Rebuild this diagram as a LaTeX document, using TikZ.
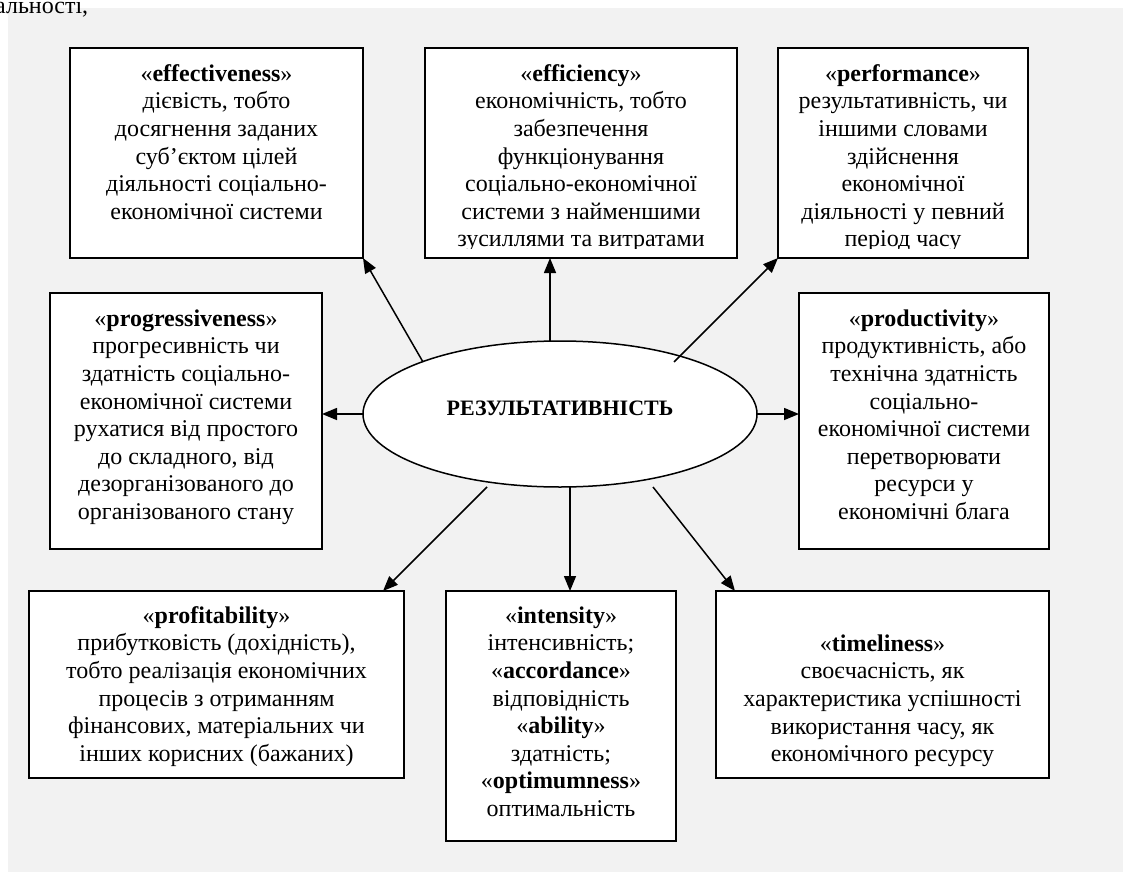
\documentclass[tikz,border=0pt]{standalone}
\usepackage{fontspec}
\setmainfont{Liberation Serif}
\usetikzlibrary{arrows.meta,shapes.geometric,calc}
\newcommand{\fl}{\rule{0pt}{18pt}}
\begin{document}
\begin{tikzpicture}[x=1pt,y=-1pt,
  box/.style={draw=black, line width=1.6pt, fill=white, rectangle, inner sep=0pt, outer sep=0pt},
  txt/.style={align=center, inner sep=0pt, font=\fontsize{24}{27.6}\selectfont, anchor=north},
  ovaltxt/.style={inner sep=0pt, font=\fontsize{22}{26}\selectfont\bfseries},
  arr/.style={line width=1.5pt, -{Triangle[length=15pt,width=12pt]}},
]
\useasboundingbox (0,0) rectangle (1123,872);
\fill[white] (0,0) rectangle (1123,872);
\fill[black!5] (8,8) rectangle (1123,872);

\node[inner sep=0pt, font=\fontsize{24}{27.6}\selectfont, anchor=base west] (cut) at (-5,14) {альності,};

% boxes
\node[box, minimum width=293, minimum height=210] (effB) at (216.5,153) {};
\node[box, minimum width=312, minimum height=210] (efcB) at (581,153) {};
\node[box, minimum width=250, minimum height=210] (perB) at (903,153) {};
\node[box, minimum width=272, minimum height=256] (proB) at (186,421) {};
\node[box, minimum width=250, minimum height=256] (prdB) at (924,421) {};
\node[box, minimum width=375, minimum height=187] (pftB) at (216.5,684.5) {};
\node[box, minimum width=230, minimum height=250] (intB) at (561,716) {};
\node[box, minimum width=333, minimum height=187] (timB) at (882.5,684.5) {};

\node[draw=black, line width=1.5pt, fill=white, ellipse, minimum width=394, minimum height=146, inner sep=0pt, outer sep=0pt] (ell) at (560,414) {};
\node[ovaltxt] (ellT) at (560,408) {РЕЗУЛЬТАТИВНІСТЬ};

% texts
\node[txt] (effT) at (216.5,63) {\fl«\textbf{effectiveness}»\\дієвість, тобто\\досягнення заданих\\суб’єктом цілей\\діяльності соціально-\\економічної системи};
\begin{scope}
\clip (425,48) rectangle (737,248);
\node[txt] (efcT) at (581,63) {\fl«\textbf{efficiency}»\\економічність, тобто\\забезпечення\\функціонування\\соціально-економічної\\системи з найменшими\\зусиллями та витратами};
\end{scope}
\begin{scope}
\clip (778,48) rectangle (1028,248);
\node[txt] (perT) at (903,63) {\fl«\textbf{performance}»\\результативність, чи\\іншими словами\\здійснення\\економічної\\діяльності у певний\\період часу};
\end{scope}
\node[txt] (proT) at (186,308) {\fl«\textbf{progressiveness}»\\прогресивність чи\\здатність соціально-\\економічної системи\\рухатися від простого\\до складного, від\\дезорганізованого до\\організованого стану};
\node[txt] (prdT) at (924,308) {\fl«\textbf{productivity}»\\продуктивність, або\\технічна здатність\\соціально-\\економічної системи\\перетворювати\\ресурси у\\економічні блага};
\node[txt] (pftT) at (216.5,605) {\fl«\textbf{profitability}»\\прибутковість (дохідність),\\тобто реалізація економічних\\процесів з отриманням\\фінансових, матеріальних чи\\інших корисних (бажаних)};
\node[txt] (intT) at (561,605) {\fl«\textbf{intensity}»\\інтенсивність;\\«\textbf{accordance}»\\відповідність\\«\textbf{ability}»\\здатність;\\«\textbf{optimumness}»\\оптимальність};
\node[txt] (timT) at (882.5,633) {\fl«\textbf{timeliness}»\\своєчасність, як\\характеристика успішності\\використання часу, як\\економічного ресурсу};

% arrow start points
\coordinate (s1) at (423,362);
\coordinate (s3) at (674,362);
\coordinate (s6) at (487,487);
\coordinate (s8) at (653,487);
\coordinate (e6) at (383,591);
\coordinate (e8) at (735,591);

\draw[arr] (s1) -- (effB.south east);
\draw[arr] (ell.north -| 550,0) -- (efcB.south -| 550,0);
\draw[arr] (s3) -- (perB.south west);
\draw[arr] (ell.west) -- (proB.east |- ell.west);
\draw[arr] (ell.east) -- (prdB.west |- ell.east);
\draw[arr] (s6) -- (e6);
\draw[arr] (ell.south -| 570,0) -- (intB.north -| 570,0);
\draw[arr] (s8) -- (e8);
\end{tikzpicture}
\end{document}
